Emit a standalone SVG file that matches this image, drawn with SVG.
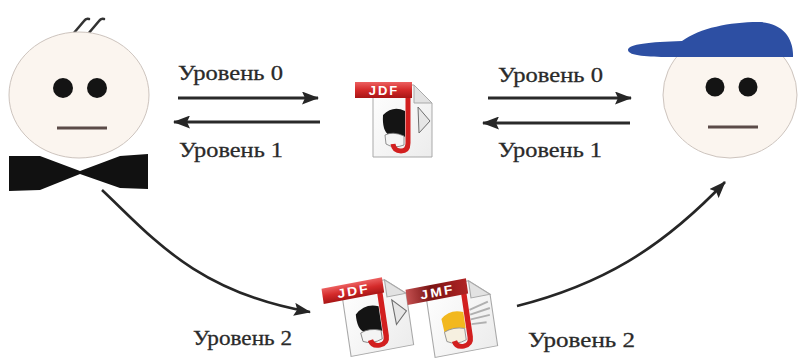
<svg xmlns="http://www.w3.org/2000/svg" xmlns:xlink="http://www.w3.org/1999/xlink" width="800" height="358" viewBox="0 0 800 358">
  <style>
    .face { fill: #fbf5ef; stroke: #cdc4be; stroke-width: 1; }
    .eye { fill: #141414; }
    .mouth { stroke: #5b4b48; stroke-width: 3; fill: none; }
    .hair { stroke: #333333; stroke-width: 2.5; fill: none; stroke-linecap: round; }
    .label { font-family: "Liberation Serif", "Times New Roman", serif; font-size: 22px; fill: #2a2a2a; stroke: #2a2a2a; stroke-width: 0.3; }
    .conn { stroke: #2a2a2a; stroke-width: 3; fill: none; }
    .curve { stroke: #262626; stroke-width: 2.6; fill: none; }
    .page { fill: url(#pageGrad); stroke: #a9a9a9; stroke-width: 1; }
    .fold { fill: #e2e2e2; stroke: #a9a9a9; stroke-width: 1; }
    .tag { font-family: "Liberation Sans", Arial, sans-serif; font-size: 13px; font-weight: bold; fill: #ffffff; letter-spacing: 2px; }
    .jstroke { stroke: #d21f1f; stroke-width: 5; fill: none; }
  </style>
  <defs>
    <marker id="ah" markerWidth="17" markerHeight="13" refX="16" refY="6.5" orient="auto" markerUnits="userSpaceOnUse">
      <path d="M0,0 L17,6.5 L0,13 L3,6.5 Z" fill="#262626"/>
    </marker>
    <linearGradient id="pageGrad" x1="0" y1="0" x2="1" y2="1">
      <stop offset="0" stop-color="#ffffff"/>
      <stop offset="1" stop-color="#ececec"/>
    </linearGradient>
    <linearGradient id="redGrad" x1="0" y1="0" x2="0" y2="1">
      <stop offset="0" stop-color="#ec6060"/>
      <stop offset="0.5" stop-color="#d42a2a"/>
      <stop offset="1" stop-color="#a81616"/>
    </linearGradient>
    <linearGradient id="darkRedGrad" x1="0" y1="0" x2="1" y2="0">
      <stop offset="0" stop-color="#c45050"/>
      <stop offset="0.4" stop-color="#7a1414"/>
      <stop offset="1" stop-color="#b02424"/>
    </linearGradient>

    <!-- JDF document icon, origin at page top-left -->
    <g id="jdfIcon">
      <path class="page" d="M0,0 H41 L59,18 V72 H0 Z"/>
      <path class="fold" d="M41,0 V18 H59 Z"/>
      <path d="M10,30 Q20,20 32,26 L32,52 Q24,47 16,50 Q9,46 10,30 Z" fill="#141414"/>
      <path d="M12,50 Q20,46 31,51 L31,60 Q21,64 13,59 Z" fill="#f4f4f4" stroke="#777" stroke-width="0.8"/>
      <path d="M45,22 L57,36 L46,48 Z" fill="#e6e6e6" stroke="#6e6e6e" stroke-width="1"/>
      <path class="jstroke" d="M35,9 V58 Q35,66 28,66 Q21,66 20,59"/>
      <rect x="-18" y="-3" width="57" height="16" fill="url(#redGrad)"/>
      <text class="tag" x="11" y="10" text-anchor="middle">JDF</text>
    </g>

    <!-- JMF document icon, origin at page top-left -->
    <g id="jmfIcon">
      <path class="page" d="M0,0 H41 L59,18 V72 H0 Z"/>
      <path class="fold" d="M41,0 V18 H59 Z"/>
      <path d="M11,34 Q20,25 32,31 L32,48 Q22,44 12,48 Z" fill="#f2b81e"/>
      <path d="M12,48 Q21,44 31,48 L31,60 Q21,64 13,58 Z" fill="#f6f0e0" stroke="#8a8a8a" stroke-width="0.8"/>
      <g stroke="#b0b0b0" stroke-width="2" fill="none">
        <path d="M38,30 L56,25"/>
        <path d="M38,35 L57,32"/>
        <path d="M38,40 L56,39"/>
        <path d="M38,45 L52,46"/>
      </g>
      <path class="jstroke" d="M35,9 V58 Q35,66 28,66 Q21,66 20,59"/>
      <rect x="-18" y="-3" width="57" height="16" fill="url(#darkRedGrad)"/>
      <text class="tag" x="11" y="10" text-anchor="middle">JMF</text>
    </g>
  </defs>

  <rect width="800" height="358" fill="#ffffff"/>

  <!-- left person with bow tie -->
  <g id="node-left-person">
    <path class="hair" d="M73,34 L84,21 Q86,18 89,19"/>
    <path class="hair" d="M88,34 L99,21 Q101,18 104,19"/>
    <ellipse class="face" cx="79" cy="95" rx="70" ry="63"/>
    <circle class="eye" cx="63" cy="88" r="10"/>
    <circle class="eye" cx="97" cy="88" r="10"/>
    <line class="mouth" x1="57" y1="128" x2="107" y2="128"/>
    <polygon points="9,156 40,156 80,171 120,156 148,154 148,189 120,188 80,174 40,190 9,191" fill="#111111"/>
  </g>

  <!-- right person with cap -->
  <g id="node-right-person">
    <ellipse class="face" cx="730" cy="95" rx="67" ry="63"/>
    <path d="M628,50 C628,44 650,42 682,41 C700,28 730,22 758,22 C782,22 794,38 793,57 L668,57 C650,57 628,56 628,50 Z" fill="#2d4fa3"/>
    <circle class="eye" cx="715" cy="87" r="9.5"/>
    <circle class="eye" cx="748" cy="87" r="9.5"/>
    <line class="mouth" x1="708" y1="127" x2="758" y2="127"/>
  </g>

  <!-- JDF document -->
  <g id="node-jdf">
    <use xlink:href="#jdfIcon" transform="translate(373,85)"/>
  </g>

  <!-- JDF + JMF documents -->
  <g id="node-jdf-jmf">
    <use xlink:href="#jdfIcon" transform="matrix(1.06,-0.2,0.14,0.95,341,288)"/>
    <use xlink:href="#jmfIcon" transform="matrix(1.06,-0.2,0.14,0.95,425,289)"/>
  </g>

  <!-- connectors -->
  <g id="connectors">
    <line class="conn" x1="178" y1="98" x2="318" y2="98" marker-end="url(#ah)"/>
    <line class="conn" x1="320" y1="122" x2="174" y2="122" marker-end="url(#ah)"/>
    <line class="conn" x1="488" y1="98" x2="631" y2="98" marker-end="url(#ah)"/>
    <line class="conn" x1="630" y1="123" x2="483" y2="123" marker-end="url(#ah)"/>
    <path class="curve" d="M102,190 C150,235 195,292 310,312" marker-end="url(#ah)"/>
    <path class="curve" d="M517,306 C600,285 660,250 725,182" marker-end="url(#ah)"/>
  </g>

  <!-- labels -->
  <g id="labels">
    <text class="label" x="178" y="80" textLength="105" lengthAdjust="spacingAndGlyphs">Уровень 0</text>
    <text class="label" x="179" y="157" textLength="104" lengthAdjust="spacingAndGlyphs">Уровень 1</text>
    <text class="label" x="498" y="82" textLength="105" lengthAdjust="spacingAndGlyphs">Уровень 0</text>
    <text class="label" x="498" y="157" textLength="104" lengthAdjust="spacingAndGlyphs">Уровень 1</text>
    <text class="label" x="193" y="345" textLength="99" lengthAdjust="spacingAndGlyphs">Уровень 2</text>
    <text class="label" x="528" y="347" textLength="107" lengthAdjust="spacingAndGlyphs">Уровень 2</text>
  </g>
</svg>
